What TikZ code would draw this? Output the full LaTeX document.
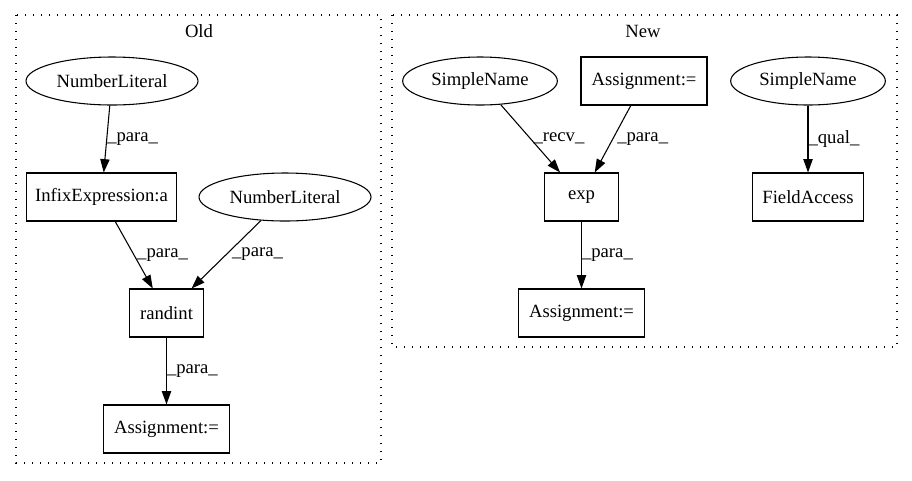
\documentclass[tikz,border=0pt]{standalone}
\usepackage{fontspec}
\setmainfont{Liberation Serif}
\usetikzlibrary{arrows.meta,shapes.geometric}
\begin{document}
\begin{tikzpicture}[x=0.75pt,y=-0.75pt,
  every node/.style={font=\fontsize{14pt}{16pt}\selectfont},
  box/.style={draw, line width=0.8pt, minimum height=36pt, inner sep=2pt},
  ell/.style={draw, ellipse, line width=0.8pt, minimum height=36pt, inner sep=0pt},
  conn/.style={-{Triangle[length=10pt,width=7pt]}, line width=0.8pt},
  lbl/.style={midway, anchor=west, inner sep=0pt},
  cluster/.style={line width=0.8pt, dash pattern=on 1pt off 5pt}]
\useasboundingbox (0,0) rectangle (912,480);
% clusters
\draw[cluster] (16,15) rectangle (381,463);
\draw[cluster] (392,15) rectangle (897,347);
\node (oldtitle) at (199,31) {Old};
\node (newtitle) at (643,31) {New};
% Old nodes
\node[ell, minimum width=129pt] (nl1) at (112,81) {NumberLiteral};
\node[box, minimum width=112pt] (infix) at (101.5,197) {InfixExpression:a};
\node[ell, minimum width=129pt] (nl2) at (285,197) {NumberLiteral};
\node[box, minimum width=55pt] (randint) at (166.5,313) {randint};
\node[box, minimum width=94pt] (asg1) at (166.5,429) {Assignment:=};
% New nodes
\node[ell, minimum width=116pt] (sn1) at (480,81) {SimpleName};
\node[box, minimum width=94.5pt] (asg2) at (644,81) {Assignment:=};
\node[ell, minimum width=116pt] (sn2) at (808,81) {SimpleName};
\node[box, minimum width=55pt] (exp) at (581.5,197) {exp};
\node[box, minimum width=83pt] (fa) at (808,197) {FieldAccess};
\node[box, minimum width=94.5pt] (asg3) at (581.5,313) {Assignment:=};
% Old edges
\draw[conn] (nl1) -- node[lbl] (l1) {\_para\_} (infix);
\draw[conn] (infix) -- node[lbl, xshift=2pt] (l2) {\_para\_} (randint);
\draw[conn] (nl2) -- node[lbl, xshift=4pt] (l3) {\_para\_} (randint);
\draw[conn] (randint) -- node[lbl] (l4) {\_para\_} (asg1);
% New edges
\draw[conn] (sn1) -- node[lbl, xshift=2pt] (l5) {\_recv\_} (exp);
\draw[conn] (asg2) -- node[lbl, xshift=3pt] (l6) {\_para\_} (exp);
\draw[conn] (sn2) -- node[lbl] (l7) {\_qual\_} (fa);
\draw[conn] (exp) -- node[lbl] (l8) {\_para\_} (asg3);
\end{tikzpicture}
\end{document}
